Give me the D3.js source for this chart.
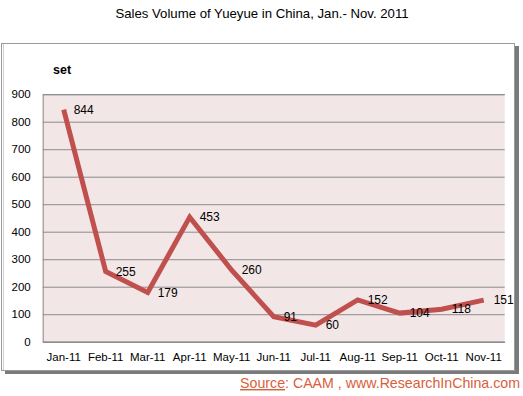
<!DOCTYPE html>
<html><head><meta charset="utf-8">
<script src="https://cdn.jsdelivr.net/npm/d3@7"></script>
<style>
html,body{margin:0;padding:0;background:#fff;}
svg{display:block;font-family:"Liberation Sans",Arial,sans-serif;}
</style></head>
<body>
<svg id="c" width="523" height="396"></svg>
<script>
const months = ["Jan-11","Feb-11","Mar-11","Apr-11","May-11","Jun-11","Jul-11","Aug-11","Sep-11","Oct-11","Nov-11"];
const sales = [844,255,179,453,260,91,60,152,104,118,151];
const yTicks = [0,100,200,300,400,500,600,700,800,900];
const titleText = "Sales Volume of Yueyue in China, Jan.- Nov. 2011";
const unitText = "set";

const svg = d3.select("#c");
const plot = {left:42.7, right:504.7, top:94.2, bottom:341.7};

// frame shadow
svg.append("rect").attr("x",5).attr("y",46).attr("width",514).attr("height",328).attr("fill","#7a7a7a");
// frame
svg.append("rect").attr("x",1.5).attr("y",43.5).attr("width",513).attr("height",327)
  .attr("fill","#fff").attr("stroke","#9a9a9a").attr("stroke-width",1);
svg.append("line").attr("x1",3.5).attr("x2",3.5).attr("y1",44).attr("y2",370).attr("stroke","#d0d0d0");

svg.append("text").attr("x",262).attr("y",18).attr("text-anchor","middle")
  .attr("font-size",13.2).attr("fill","#000").text(titleText);

const x = d3.scaleBand().domain(months).range([plot.left,plot.right]);
const y = d3.scaleLinear().domain([0,900]).range([plot.bottom,plot.top]);

svg.append("rect").attr("x",plot.left).attr("y",plot.top)
  .attr("width",plot.right-plot.left).attr("height",plot.bottom-plot.top).attr("fill","#f2e6e6");

const ga = svg.append("g").attr("transform",`translate(${plot.left},0)`)
  .call(d3.axisLeft(y).tickValues(yTicks).tickSize(-(plot.right-plot.left)).tickPadding(12));
ga.select(".domain").attr("stroke","#888");
ga.selectAll(".tick line").attr("stroke","#8c8c8c");
ga.selectAll(".tick text").attr("font-size",11.5).attr("fill","#000").attr("font-family","Liberation Sans, Arial, sans-serif");

const gx = svg.append("g").attr("transform",`translate(0,${plot.bottom})`)
  .call(d3.axisBottom(x).tickSize(0).tickPadding(11));
gx.select(".domain").attr("stroke","#888");
gx.selectAll(".tick text").attr("font-size",11.5).attr("fill","#000").attr("font-family","Liberation Sans, Arial, sans-serif");

svg.append("text").attr("x",53).attr("y",74).attr("font-size",12.5).attr("font-weight","bold")
  .attr("fill","#000").text(unitText);

const line = d3.line().x((d,i)=>x(months[i])+x.bandwidth()/2).y(d=>y(d));
svg.append("path").datum(sales).attr("d",line).attr("fill","none")
  .attr("stroke","#c0504d").attr("stroke-width",5).attr("stroke-linejoin","miter");

svg.append("g").selectAll("text").data(sales).join("text")
  .attr("x",(d,i)=>x(months[i])+x.bandwidth()/2+10)
  .attr("y",d=>y(d)).attr("dy","0.35em")
  .attr("font-size",12).attr("fill","#000").text(d=>d);

const src = svg.append("text").attr("x",520).attr("y",388).attr("text-anchor","end")
  .attr("font-size",14.2).attr("fill","#d9603b");
src.append("tspan").attr("text-decoration","underline").text("Source");
src.append("tspan").text(": CAAM , www.ResearchInChina.com");
</script>
</body></html>
